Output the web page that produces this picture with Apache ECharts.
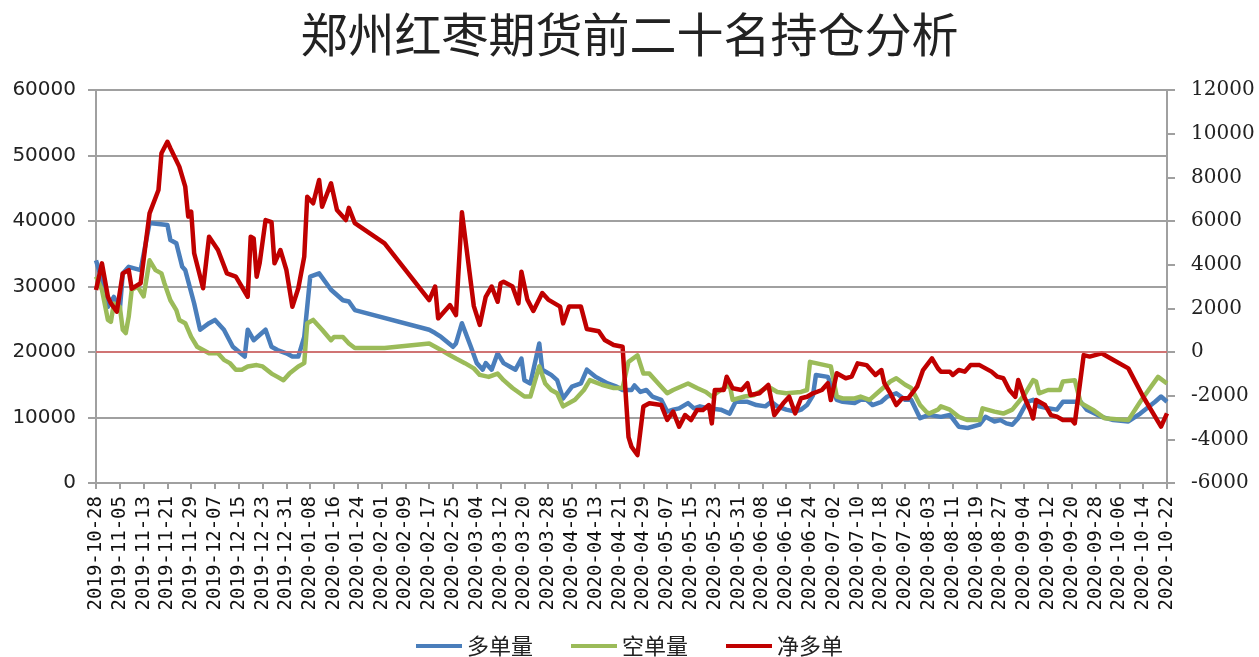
<!DOCTYPE html>
<html>
<head>
<meta charset="utf-8">
<script src="https://cdn.jsdelivr.net/npm/echarts@6/dist/echarts.min.js"></script>
<style>
  html, body { margin: 0; padding: 0; background: #fff; }
  #chart { width: 1259px; height: 657px; }
</style>
</head>
<body>
<div id="chart"></div>
<script>
// 图例名称
var seriesNames = ["多单量", "空单量", "净多单"];

// 多单量 (left axis)
var longPos = [
  ["2019-10-28", 34000], ["2019-10-29", 32500], ["2019-11-01", 26900], ["2019-11-03", 28400],
  ["2019-11-05", 26400], ["2019-11-06", 32000], ["2019-11-08", 33000], ["2019-11-12", 32500],
  ["2019-11-15", 39700], ["2019-11-21", 39400], ["2019-11-22", 37100], ["2019-11-24", 36600],
  ["2019-11-26", 33000], ["2019-11-27", 32500], ["2019-11-30", 27400], ["2019-12-02", 23400],
  ["2019-12-05", 24400], ["2019-12-07", 24900], ["2019-12-10", 23400], ["2019-12-13", 20800],
  ["2019-12-17", 19300], ["2019-12-18", 23400], ["2019-12-20", 21800], ["2019-12-24", 23400],
  ["2019-12-26", 20800], ["2019-12-28", 20300], ["2019-12-31", 19800], ["2020-01-02", 19300],
  ["2020-01-04", 19300], ["2020-01-06", 22300], ["2020-01-08", 31500], ["2020-01-11", 32000],
  ["2020-01-15", 29500], ["2020-01-19", 27900], ["2020-01-21", 27700], ["2020-01-23", 26400],
  ["2020-02-17", 23400], ["2020-02-19", 22900], ["2020-02-21", 22300], ["2020-02-25", 20800],
  ["2020-02-26", 21300], ["2020-02-28", 24400], ["2020-03-02", 20800], ["2020-03-04", 18300],
  ["2020-03-06", 17300], ["2020-03-07", 18300], ["2020-03-09", 17300], ["2020-03-11", 19800],
  ["2020-03-13", 18300], ["2020-03-15", 17800], ["2020-03-17", 17300], ["2020-03-19", 19000],
  ["2020-03-20", 15700], ["2020-03-22", 15200], ["2020-03-25", 21300], ["2020-03-26", 17300],
  ["2020-03-29", 16500], ["2020-03-31", 15700], ["2020-04-02", 12900], ["2020-04-05", 14700],
  ["2020-04-08", 15200], ["2020-04-10", 17300], ["2020-04-13", 16200], ["2020-04-17", 15200],
  ["2020-04-20", 14700], ["2020-04-22", 14200], ["2020-04-25", 14200], ["2020-04-26", 14900],
  ["2020-04-28", 13900], ["2020-04-30", 14200], ["2020-05-02", 13200], ["2020-05-05", 12700],
  ["2020-05-07", 10900], ["2020-05-09", 11200], ["2020-05-11", 11400], ["2020-05-14", 12200],
  ["2020-05-16", 11400], ["2020-05-18", 11700], ["2020-05-21", 11400], ["2020-05-25", 11200],
  ["2020-05-28", 10600], ["2020-05-30", 12400], ["2020-06-03", 12400], ["2020-06-06", 11900],
  ["2020-06-09", 11700], ["2020-06-11", 12400], ["2020-06-13", 11700], ["2020-06-16", 11200],
  ["2020-06-19", 10900], ["2020-06-21", 11200], ["2020-06-23", 11900], ["2020-06-25", 13400],
  ["2020-06-26", 16500], ["2020-06-30", 16200], ["2020-07-03", 12700], ["2020-07-05", 12400],
  ["2020-07-09", 12200], ["2020-07-11", 12700], ["2020-07-13", 12700], ["2020-07-15", 11900],
  ["2020-07-18", 12400], ["2020-07-20", 13200], ["2020-07-23", 13700], ["2020-07-26", 12700],
  ["2020-07-28", 12700], ["2020-07-31", 9900], ["2020-08-03", 10400], ["2020-08-07", 10100],
  ["2020-08-10", 10400], ["2020-08-13", 8600], ["2020-08-16", 8400], ["2020-08-20", 8900],
  ["2020-08-22", 10100], ["2020-08-25", 9400], ["2020-08-27", 9600], ["2020-08-29", 9100],
  ["2020-08-31", 8900], ["2020-09-02", 9900], ["2020-09-05", 12400], ["2020-09-07", 12700],
  ["2020-09-09", 11700], ["2020-09-12", 11400], ["2020-09-15", 11200], ["2020-09-17", 12400],
  ["2020-09-23", 12400], ["2020-09-25", 11200], ["2020-09-30", 10100], ["2020-10-04", 9600],
  ["2020-10-09", 9400], ["2020-10-13", 10600], ["2020-10-18", 12400], ["2020-10-20", 13200],
  ["2020-10-22", 12400]
];

// 空单量 (left axis)
var shortPos = [
  ["2019-10-28", 31500], ["2019-10-30", 29500], ["2019-11-01", 24900], ["2019-11-02", 24600],
  ["2019-11-03", 27400], ["2019-11-05", 26900], ["2019-11-06", 23400], ["2019-11-07", 22900],
  ["2019-11-08", 25400], ["2019-11-09", 29500], ["2019-11-11", 30000], ["2019-11-13", 28500],
  ["2019-11-15", 34000], ["2019-11-17", 32500], ["2019-11-19", 32000], ["2019-11-20", 30500],
  ["2019-11-22", 27900], ["2019-11-24", 26400], ["2019-11-25", 24900], ["2019-11-27", 24400],
  ["2019-11-29", 22300], ["2019-12-01", 20800], ["2019-12-03", 20300], ["2019-12-05", 19800],
  ["2019-12-08", 19800], ["2019-12-10", 18800], ["2019-12-12", 18300], ["2019-12-14", 17300],
  ["2019-12-16", 17300], ["2019-12-18", 17800], ["2019-12-21", 18000], ["2019-12-23", 17800],
  ["2019-12-26", 16700], ["2019-12-28", 16200], ["2019-12-30", 15700], ["2020-01-01", 16700],
  ["2020-01-04", 17800], ["2020-01-06", 18300], ["2020-01-07", 24400], ["2020-01-09", 24900],
  ["2020-01-10", 24400], ["2020-01-12", 23400], ["2020-01-15", 21800], ["2020-01-16", 22300],
  ["2020-01-19", 22300], ["2020-01-21", 21300], ["2020-01-23", 20600], ["2020-02-02", 20600],
  ["2020-02-17", 21300], ["2020-02-21", 20300], ["2020-02-24", 19500], ["2020-02-26", 19000],
  ["2020-02-29", 18300], ["2020-03-03", 17500], ["2020-03-05", 16500], ["2020-03-08", 16200],
  ["2020-03-11", 16700], ["2020-03-13", 15700], ["2020-03-16", 14500], ["2020-03-20", 13200],
  ["2020-03-22", 13200], ["2020-03-25", 17800], ["2020-03-27", 15200], ["2020-03-29", 14200],
  ["2020-03-31", 13700], ["2020-04-02", 11700], ["2020-04-06", 12700], ["2020-04-09", 14200],
  ["2020-04-11", 15700], ["2020-04-15", 15000], ["2020-04-19", 14500], ["2020-04-22", 14500],
  ["2020-04-24", 18500], ["2020-04-27", 19500], ["2020-04-29", 16700], ["2020-05-01", 16700],
  ["2020-05-04", 15200], ["2020-05-07", 13700], ["2020-05-09", 14200], ["2020-05-14", 15200],
  ["2020-05-17", 14500], ["2020-05-20", 13900], ["2020-05-22", 13200], ["2020-05-25", 14200],
  ["2020-05-28", 15000], ["2020-05-29", 12700], ["2020-06-02", 13200], ["2020-06-05", 13400],
  ["2020-06-10", 14700], ["2020-06-13", 13900], ["2020-06-16", 13700], ["2020-06-21", 13900],
  ["2020-06-23", 14200], ["2020-06-24", 18500], ["2020-06-29", 18000], ["2020-07-01", 17800],
  ["2020-07-03", 13200], ["2020-07-05", 12900], ["2020-07-09", 12900], ["2020-07-11", 13200],
  ["2020-07-14", 12700], ["2020-07-17", 13900], ["2020-07-19", 14700], ["2020-07-21", 15500],
  ["2020-07-23", 16000], ["2020-07-26", 15000], ["2020-07-28", 14500], ["2020-07-31", 11900],
  ["2020-08-02", 10900], ["2020-08-03", 10600], ["2020-08-06", 11200], ["2020-08-07", 11700],
  ["2020-08-10", 11200], ["2020-08-13", 10100], ["2020-08-16", 9600], ["2020-08-20", 9600],
  ["2020-08-21", 11400], ["2020-08-25", 10900], ["2020-08-28", 10600], ["2020-08-31", 11200],
  ["2020-09-04", 13400], ["2020-09-07", 15700], ["2020-09-08", 15500], ["2020-09-09", 13700],
  ["2020-09-12", 14200], ["2020-09-16", 14200], ["2020-09-17", 15500], ["2020-09-21", 15700],
  ["2020-09-23", 12200], ["2020-09-27", 11200], ["2020-10-01", 9900], ["2020-10-09", 9600],
  ["2020-10-13", 12400], ["2020-10-19", 16200], ["2020-10-22", 15200]
];

// 净多单 (right axis)
var netPos = [
  ["2019-10-28", 2840], ["2019-10-30", 4060], ["2019-11-01", 2530], ["2019-11-02", 2230],
  ["2019-11-04", 1850], ["2019-11-06", 3600], ["2019-11-08", 3750], ["2019-11-09", 2900],
  ["2019-11-12", 3150], ["2019-11-15", 6350], ["2019-11-18", 7420], ["2019-11-19", 9100],
  ["2019-11-21", 9630], ["2019-11-22", 9330], ["2019-11-25", 8490], ["2019-11-27", 7570],
  ["2019-11-28", 6200], ["2019-11-29", 6430], ["2019-11-30", 4520], ["2019-12-03", 2920],
  ["2019-12-05", 5280], ["2019-12-08", 4670], ["2019-12-11", 3600], ["2019-12-14", 3450],
  ["2019-12-18", 2530], ["2019-12-19", 5280], ["2019-12-20", 5200], ["2019-12-21", 3450],
  ["2019-12-22", 4060], ["2019-12-24", 6045], ["2019-12-26", 5950], ["2019-12-27", 4060],
  ["2019-12-29", 4670], ["2019-12-31", 3755], ["2020-01-02", 2075], ["2020-01-04", 2920],
  ["2020-01-06", 4366], ["2020-01-07", 7110], ["2020-01-09", 6810], ["2020-01-11", 7880],
  ["2020-01-12", 6655], ["2020-01-15", 7730], ["2020-01-17", 6500], ["2020-01-20", 6045],
  ["2020-01-21", 6600], ["2020-01-23", 5900], ["2020-02-02", 4980], ["2020-02-17", 2380],
  ["2020-02-19", 3000], ["2020-02-20", 1540], ["2020-02-24", 2150], ["2020-02-26", 1690],
  ["2020-02-28", 6400], ["2020-03-03", 2100], ["2020-03-05", 1240], ["2020-03-07", 2530],
  ["2020-03-09", 3000], ["2020-03-11", 2300], ["2020-03-12", 3150], ["2020-03-13", 3220],
  ["2020-03-16", 3000], ["2020-03-18", 2230], ["2020-03-19", 3680], ["2020-03-21", 2400],
  ["2020-03-23", 1880], ["2020-03-26", 2700], ["2020-03-28", 2400], ["2020-04-01", 2080],
  ["2020-04-02", 1310], ["2020-04-04", 2080], ["2020-04-08", 2080], ["2020-04-10", 1050],
  ["2020-04-14", 950], ["2020-04-16", 550], ["2020-04-19", 320], ["2020-04-22", 240],
  ["2020-04-24", -3900], ["2020-04-25", -4340], ["2020-04-27", -4720], ["2020-04-29", -2500],
  ["2020-05-01", -2350], ["2020-05-05", -2430], ["2020-05-07", -3115], ["2020-05-09", -2730],
  ["2020-05-11", -3420], ["2020-05-13", -2890], ["2020-05-15", -3115], ["2020-05-17", -2660],
  ["2020-05-19", -2660], ["2020-05-21", -2430], ["2020-05-22", -3270], ["2020-05-23", -1740],
  ["2020-05-26", -1740], ["2020-05-27", -1130], ["2020-05-29", -1660], ["2020-06-01", -1740],
  ["2020-06-03", -1430], ["2020-06-04", -1970], ["2020-06-07", -1890], ["2020-06-10", -1510],
  ["2020-06-12", -2890], ["2020-06-15", -2350], ["2020-06-17", -2050], ["2020-06-19", -2810],
  ["2020-06-21", -2120], ["2020-06-23", -2050], ["2020-06-25", -1890], ["2020-06-28", -1740],
  ["2020-06-30", -1430], ["2020-07-01", -2200], ["2020-07-03", -975], ["2020-07-06", -1200],
  ["2020-07-08", -1130], ["2020-07-10", -520], ["2020-07-13", -600], ["2020-07-16", -1050],
  ["2020-07-18", -825], ["2020-07-19", -1430], ["2020-07-21", -1890], ["2020-07-23", -2430],
  ["2020-07-25", -2120], ["2020-07-27", -2120], ["2020-07-30", -1590], ["2020-08-01", -825],
  ["2020-08-04", -290], ["2020-08-06", -750], ["2020-08-07", -900], ["2020-08-10", -900],
  ["2020-08-11", -1050], ["2020-08-13", -825], ["2020-08-15", -900], ["2020-08-17", -600],
  ["2020-08-20", -600], ["2020-08-24", -900], ["2020-08-26", -1130], ["2020-08-28", -1200],
  ["2020-08-30", -1740], ["2020-09-01", -2050], ["2020-09-02", -1280], ["2020-09-04", -2050],
  ["2020-09-06", -2660], ["2020-09-07", -3040], ["2020-09-08", -2200], ["2020-09-11", -2430],
  ["2020-09-13", -2890], ["2020-09-15", -2960], ["2020-09-17", -3115], ["2020-09-20", -3115],
  ["2020-09-21", -3270], ["2020-09-24", -140], ["2020-09-26", -210], ["2020-09-30", -60],
  ["2020-10-04", -370], ["2020-10-09", -750], ["2020-10-14", -2050], ["2020-10-20", -3420],
  ["2020-10-22", -2810]
];

// 每个自然日一个类目
var startDate = "2019-10-28";
var endDate = "2020-10-22";
function buildDays(from, to) {
  var out = [];
  var d = new Date(from + "T00:00:00Z");
  var end = new Date(to + "T00:00:00Z");
  while (d <= end) {
    out.push(d.toISOString().slice(0, 10));
    d.setUTCDate(d.getUTCDate() + 1);
  }
  return out;
}
var days = buildDays(startDate, endDate);

var myChart = echarts.init(document.getElementById("chart"));
myChart.setOption({
  animation: false,
  title: {
    text: "郑州红枣期货前二十名持仓分析",
    left: "center",
    top: 6,
    textStyle: {
      fontFamily: "Noto Sans CJK SC",
      fontWeight: "normal",
      fontSize: 47,
      color: "#222",
    },
  },
  legend: {
    data: seriesNames,
    left: "center",
    top: 630,
    icon: "rect",
    itemWidth: 46,
    itemHeight: 4,
    itemGap: 38,
    textStyle: {
      fontFamily: "Noto Sans CJK SC",
      fontSize: 22,
      color: "#222",
    },
  },
  grid: {
    left: 96,
    right: 92,
    top: 90,
    bottom: 174,
  },
  xAxis: {
    type: "category",
    boundaryGap: false,
    data: days,
    axisLine: { lineStyle: { color: "#a0a0a0", width: 2 } },
    axisTick: { interval: 7, length: 6, lineStyle: { color: "#a0a0a0", width: 2 } },
    axisLabel: {
      interval: 7,
      rotate: 90,
      margin: 13,
      fontFamily: "DejaVu Sans Mono",
      fontSize: 19,
      color: "#111",
    },
  },
  yAxis: [
    {
      type: "value",
      min: 0,
      max: 60000,
      interval: 10000,
      axisLine: { show: true, lineStyle: { color: "#a0a0a0", width: 2 } },
      axisTick: { show: true, length: 8, lineStyle: { color: "#a0a0a0", width: 2 } },
      splitLine: { lineStyle: { color: "#a0a0a0", width: 2 } },
      axisLabel: {
        fontFamily: "DejaVu Sans",
        fontSize: 20,
        color: "#222",
        margin: 20,
        formatter: function (v) { return String(v); },
      },
    },
    {
      type: "value",
      min: -6000,
      max: 12000,
      interval: 2000,
      axisLine: { show: true, lineStyle: { color: "#a0a0a0", width: 2 } },
      axisTick: { show: true, length: 8, lineStyle: { color: "#a0a0a0", width: 2 } },
      splitLine: { show: false },
      axisLabel: {
        fontFamily: "DejaVu Serif",
        fontSize: 20,
        color: "#222",
        margin: 24,
        formatter: function (v) { return String(v); },
      },
    },
  ],
  series: [
    {
      name: seriesNames[0],
      type: "line",
      data: longPos,
      yAxisIndex: 0,
      showSymbol: false,
      connectNulls: true,
      itemStyle: { color: "#4a7ebb" },
      lineStyle: { width: 4.5, color: "#4a7ebb", join: "round" },
    },
    {
      name: seriesNames[1],
      type: "line",
      data: shortPos,
      yAxisIndex: 0,
      showSymbol: false,
      connectNulls: true,
      itemStyle: { color: "#9bbb59" },
      lineStyle: { width: 4.5, color: "#9bbb59", join: "round" },
    },
    {
      name: seriesNames[2],
      type: "line",
      data: netPos,
      yAxisIndex: 1,
      showSymbol: false,
      connectNulls: true,
      itemStyle: { color: "#c00000" },
      lineStyle: { width: 4.5, color: "#c00000", join: "round" },
      markLine: {
        silent: true,
        symbol: "none",
        label: { show: false },
        lineStyle: { color: "#e06666", width: 1.5, type: "solid" },
        data: [{ yAxis: 0 }],
      },
    },
  ],
});
</script>
</body>
</html>
